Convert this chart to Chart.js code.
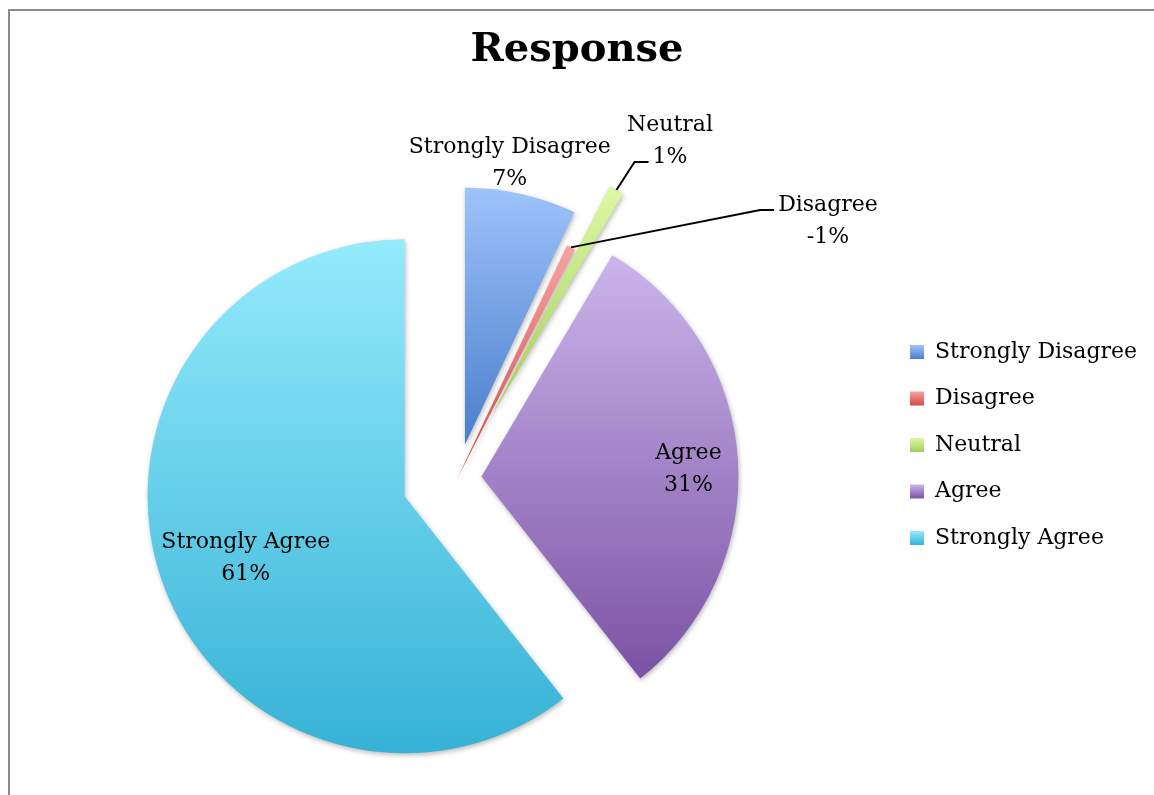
<!DOCTYPE html>
<html lang="en">
<head>
<meta charset="UTF-8">
<title>Response</title>
<script src="https://cdn.jsdelivr.net/npm/chart.js"></script>
<style>
  html, body { margin: 0; padding: 0; background: #fff; overflow: hidden; }
  #frame { position: absolute; left: 8px; top: 9px; width: 1300px; height: 1000px; border: 2px solid #8a8a8a; }
  #chart { position: absolute; left: 0; top: 0; }
</style>
</head>
<body>
<div id="frame"></div>
<canvas id="chart" width="1154" height="795"></canvas>
<script>
// Chart data
const categories = ['Strongly Disagree', 'Disagree', 'Neutral', 'Agree', 'Strongly Agree'];
const responseValues = [7.0, -0.55, 0.95, 30.9, 60.6];

// Slice colours: vertical gradient, light at top, dark at bottom
const topColors = ['#9dc3fa', '#f9a3a0', '#ddf9a4', '#cbb5eb', '#94ebfc'];
const bottomColors = ['#4a7ecb', '#d04a47', '#a3cc5b', '#7b52a4', '#36b2d6'];
const legendColors = ['#6f9ee3', '#e57774', '#c0e57f', '#a384c8', '#62cfe9'];

// How far each slice is pulled out, and where its label sits
const explode = [34, 0, 72, 24, 56];
const labelRadius = [1.117, 1.759, 1.277, 0.806, 0.66];
const labelTurn = [-3.6, 28.85, 3.9, 1.3, -1.5];
const leaderLine = [null, 0, 1, null, null];

const font = 'DejaVu Serif';

// Pulled-out tip of a slice
function apexOf(arc, i) {
  const mid = (arc.startAngle + arc.endAngle) / 2;
  return { x: arc.x + Math.cos(mid) * explode[i], y: arc.y + Math.sin(mid) * explode[i], mid: mid };
}

// Gradient spanning the height of the slice itself
function sliceGradient(ctx, arc, i) {
  let minY = arc.y, maxY = arc.y;
  for (let k = 0; k <= 60; k++) {
    const a = arc.startAngle + (arc.endAngle - arc.startAngle) * k / 60;
    const y = arc.y + Math.sin(a) * arc.outerRadius;
    minY = Math.min(minY, y);
    maxY = Math.max(maxY, y);
  }
  const g = ctx.createLinearGradient(0, minY, 0, maxY);
  g.addColorStop(0, topColors[i]);
  g.addColorStop(1, bottomColors[i]);
  return g;
}

// Draws each arc moved out along its middle angle
const explodedPie = {
  id: 'explodedPie',
  beforeDatasetDraw(chart, args) {
    const ctx = chart.ctx;
    args.meta.data.forEach((arc, i) => {
      const p = apexOf(arc, i);
      const saved = arc.options;
      arc.options = Object.assign({}, saved, { backgroundColor: sliceGradient(ctx, arc, i) });
      ctx.save();
      ctx.shadowColor = 'rgba(0,0,0,0.28)';
      ctx.shadowBlur = 5;
      ctx.shadowOffsetX = 1;
      ctx.shadowOffsetY = 2;
      ctx.translate(p.x - arc.x, p.y - arc.y);
      arc.draw(ctx);
      ctx.restore();
      arc.options = saved;
    });
    return false;
  }
};

// Category and percentage labels, with leader lines where needed
const sliceLabels = {
  id: 'sliceLabels',
  afterDatasetsDraw(chart) {
    const ctx = chart.ctx;
    const meta = chart.getDatasetMeta(0);
    const total = responseValues.reduce((s, v) => s + Math.abs(v), 0);
    ctx.save();
    ctx.font = '22px "' + font + '"';
    ctx.fillStyle = '#000';
    ctx.textAlign = 'center';
    ctx.textBaseline = 'alphabetic';
    meta.data.forEach((arc, i) => {
      const p = apexOf(arc, i);
      const R = arc.outerRadius;
      const a = p.mid + labelTurn[i] * Math.PI / 180;
      const cx = p.x + Math.cos(a) * R * labelRadius[i];
      const cy = p.y + Math.sin(a) * R * labelRadius[i];
      const lines = [categories[i], Math.round(responseValues[i] / total * 100) + '%'];
      // baseline sits 8px under the visual middle of each line
      lines.forEach((t, k) => ctx.fillText(t, cx, cy + (k - 0.5) * 32 + 8));
      if (leaderLine[i] !== null) {
        const k = leaderLine[i];
        const w = ctx.measureText(lines[k]).width;
        const ex = cx - w / 2 - 4;
        const ey = cy + (k - 0.5) * 32 + 7;
        const sx = p.x + Math.cos(p.mid) * R;
        const sy = p.y + Math.sin(p.mid) * R;
        ctx.beginPath();
        ctx.moveTo(sx, sy);
        ctx.lineTo(ex - 14, ey);
        ctx.lineTo(ex, ey);
        ctx.lineWidth = 2;
        ctx.strokeStyle = '#000';
        ctx.stroke();
      }
    });
    ctx.restore();
  }
};

// Legend boxes get the same gradients as the slices
const legendGradients = {
  id: 'legendGradients',
  beforeDraw(chart) {
    const lg = chart.legend;
    if (!lg || !lg.legendHitBoxes) return;
    lg.legendItems.forEach((item, i) => {
      const hb = lg.legendHitBoxes[i];
      if (!hb) return;
      const top = hb.top + (hb.height - 14) / 2;
      const g = chart.ctx.createLinearGradient(0, top, 0, top + 14);
      g.addColorStop(0, topColors[i]);
      g.addColorStop(1, bottomColors[i]);
      item.fillStyle = g;
    });
  }
};

new Chart(document.getElementById('chart'), {
  type: 'pie',
  data: {
    labels: categories,
    datasets: [{
      data: responseValues,
      backgroundColor: legendColors,
      borderWidth: 0,
      radius: 257
    }]
  },
  options: {
    responsive: false,
    animation: false,
    devicePixelRatio: 1,
    events: [],
    layout: { padding: { left: 15, right: 15, top: 10, bottom: -85 } },
    plugins: {
      title: {
        display: true,
        text: 'Response',
        color: '#000',
        font: { family: font, size: 40, weight: 'bold', lineHeight: 1 },
        padding: { top: 21, bottom: 90 }
      },
      // empty strip on the left, keeps the pie off-centre like the original
      subtitle: {
        display: true,
        position: 'left',
        text: '',
        font: { size: 10, lineHeight: 1 },
        padding: { top: 2.25, bottom: 2.25 }
      },
      legend: {
        position: 'right',
        maxWidth: 253.5,
        labels: {
          color: '#000',
          font: { family: font, size: 22 },
          boxWidth: 14,
          boxHeight: 14,
          padding: 24.5
        }
      },
      tooltip: { enabled: false }
    }
  },
  plugins: [explodedPie, sliceLabels, legendGradients]
});
</script>
</body>
</html>
